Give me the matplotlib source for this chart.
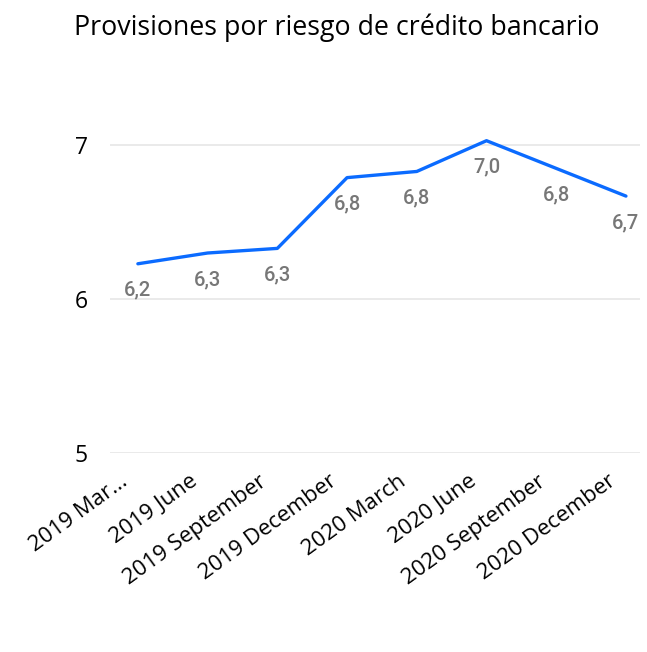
import matplotlib
matplotlib.use('Agg')
import matplotlib.pyplot as plt
import matplotlib.transforms as mtransforms

# DATOS
periodos = ['2019 Mar...', '2019 June', '2019 September', '2019 December',
            '2020 March', '2020 June', '2020 September', '2020 December']
valores = [6.23, 6.30, 6.33, 6.79, 6.83, 7.03, 6.85, 6.67]
etiquetas = ['6,2', '6,3', '6,3', '6,8', '6,8', '7,0', '6,8', '6,7']
y_ticks = [5, 6, 7]

fig = plt.figure(figsize=(6.47, 6.52), dpi=100)
ax = fig.add_axes([0.17, 0.3052, 0.819, 0.6135])

x = list(range(len(periodos)))
ax.plot(x, valores, color='#0B6BFF', linewidth=2.4, solid_joinstyle='round',
        solid_capstyle='round', zorder=3)

# ETIQUETAS DE DATOS DEBAJO DE CADA PUNTO
for i, (v, t) in enumerate(zip(valores, etiquetas)):
    ax.annotate(t, (i, v), xytext=(0, -19), textcoords='offset points',
                ha='center', va='center', fontsize=14.5, color='#777777',
                family='Roboto', fontweight='medium')

ax.set_xlim(-0.4, 7.2)
ax.set_ylim(5, 7.6)
ax.set_yticks(y_ticks)
ax.set_yticklabels([str(t) for t in y_ticks], fontsize=16.5, family='Open Sans')
ax.set_xticks(x)
ax.set_xticklabels(periodos, rotation=36, ha='right', va='center',
                   rotation_mode='anchor', fontsize=16, family='Open Sans')
ax.tick_params(axis='y', length=0, pad=16)
ax.tick_params(axis='x', length=0, pad=19)

# MOVER LAS ETIQUETAS DEL EJE X UN POCO A LA IZQUIERDA
desplazar = mtransforms.ScaledTranslation(-9 / 72, 0, fig.dpi_scale_trans)
for lbl in ax.get_xticklabels():
    lbl.set_transform(lbl.get_transform() + desplazar)

ax.grid(axis='y', color='#E8E8E8', linewidth=1.3)
ax.set_axisbelow(True)
for s in ax.spines.values():
    s.set_visible(False)

fig.text(0.52, 0.957, 'Provisiones por riesgo de crédito bancario',
         ha='center', va='center', fontsize=19.3, family='Open Sans')

fig.savefig('out.png', dpi=100)
